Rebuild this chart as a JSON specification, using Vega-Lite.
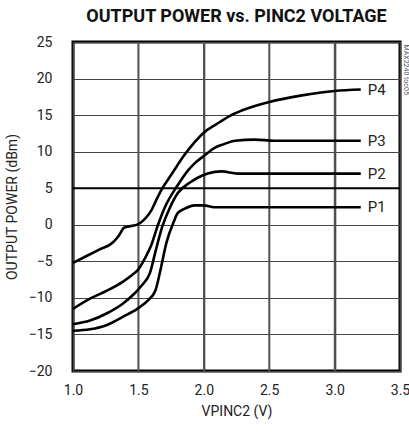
{
  "$schema": "https://vega.github.io/schema/vega-lite/v6.json",
  "width": 327,
  "height": 329,
  "autosize": {"type": "none"},
  "padding": {"left": 73, "top": 42, "right": 9, "bottom": 62},
  "background": "white",
  "config": {
    "font": "Roboto",
    "view": {"stroke": "black", "strokeWidth": 3},
    "axis": {
      "labelFont": "Roboto",
      "titleFont": "Roboto",
      "labelFontSize": 14,
      "titleFontSize": 14,
      "titleFontWeight": "normal",
      "labelColor": "#222",
      "titleColor": "#222",
      "labelFlush": false,
      "grid": true,
      "gridColor": "#444",
      "gridWidth": 1,
      "gridOpacity": 1,
      "ticks": false,
      "domain": false
    }
  },
  "title": {
    "text": "OUTPUT POWER vs. PINC2 VOLTAGE",
    "font": "Roboto",
    "fontSize": 18,
    "fontWeight": "bold",
    "color": "#111",
    "anchor": "middle",
    "offset": 9
  },
  "datasets": {
    "curves": [
      {"series": "P4", "v": 1.0, "p": -5.2},
      {"series": "P4", "v": 1.1, "p": -4.3},
      {"series": "P4", "v": 1.2, "p": -3.4},
      {"series": "P4", "v": 1.3, "p": -2.5},
      {"series": "P4", "v": 1.35, "p": -1.5},
      {"series": "P4", "v": 1.39, "p": -0.4},
      {"series": "P4", "v": 1.45, "p": -0.15},
      {"series": "P4", "v": 1.5, "p": 0.1},
      {"series": "P4", "v": 1.55, "p": 0.8},
      {"series": "P4", "v": 1.6, "p": 2.0},
      {"series": "P4", "v": 1.64, "p": 3.5},
      {"series": "P4", "v": 1.68, "p": 4.9},
      {"series": "P4", "v": 1.75, "p": 6.8},
      {"series": "P4", "v": 1.85, "p": 9.5},
      {"series": "P4", "v": 1.93, "p": 11.3},
      {"series": "P4", "v": 2.0, "p": 12.6},
      {"series": "P4", "v": 2.1, "p": 13.8},
      {"series": "P4", "v": 2.2, "p": 14.9},
      {"series": "P4", "v": 2.3, "p": 15.7},
      {"series": "P4", "v": 2.5, "p": 16.8},
      {"series": "P4", "v": 2.75, "p": 17.7},
      {"series": "P4", "v": 3.0, "p": 18.3},
      {"series": "P4", "v": 3.2, "p": 18.5},
      {"series": "P3", "v": 1.0, "p": -11.5},
      {"series": "P3", "v": 1.13, "p": -10.1},
      {"series": "P3", "v": 1.26, "p": -9.0},
      {"series": "P3", "v": 1.38, "p": -7.8},
      {"series": "P3", "v": 1.47, "p": -6.6},
      {"series": "P3", "v": 1.5, "p": -6.1},
      {"series": "P3", "v": 1.55, "p": -4.6},
      {"series": "P3", "v": 1.6, "p": -2.7},
      {"series": "P3", "v": 1.65, "p": 0.0},
      {"series": "P3", "v": 1.7, "p": 2.3},
      {"series": "P3", "v": 1.8, "p": 5.4},
      {"series": "P3", "v": 1.88, "p": 7.45},
      {"series": "P3", "v": 1.93, "p": 8.4},
      {"series": "P3", "v": 2.0, "p": 9.4},
      {"series": "P3", "v": 2.08, "p": 10.5},
      {"series": "P3", "v": 2.15, "p": 11.0},
      {"series": "P3", "v": 2.24, "p": 11.5},
      {"series": "P3", "v": 2.39, "p": 11.65},
      {"series": "P3", "v": 2.54, "p": 11.5},
      {"series": "P3", "v": 3.2, "p": 11.5},
      {"series": "P2", "v": 1.0, "p": -13.6},
      {"series": "P2", "v": 1.13, "p": -13.1},
      {"series": "P2", "v": 1.26, "p": -12.1},
      {"series": "P2", "v": 1.38, "p": -10.8},
      {"series": "P2", "v": 1.47, "p": -9.4},
      {"series": "P2", "v": 1.525, "p": -8.3},
      {"series": "P2", "v": 1.59, "p": -6.5},
      {"series": "P2", "v": 1.63, "p": -3.7},
      {"series": "P2", "v": 1.68, "p": -0.4},
      {"series": "P2", "v": 1.74, "p": 2.3},
      {"series": "P2", "v": 1.8, "p": 4.3},
      {"series": "P2", "v": 1.9, "p": 5.85},
      {"series": "P2", "v": 1.95, "p": 6.4},
      {"series": "P2", "v": 2.03, "p": 7.0},
      {"series": "P2", "v": 2.135, "p": 7.3},
      {"series": "P2", "v": 2.26, "p": 7.0},
      {"series": "P2", "v": 3.2, "p": 7.0},
      {"series": "P1", "v": 1.0, "p": -14.5},
      {"series": "P1", "v": 1.13, "p": -14.3},
      {"series": "P1", "v": 1.26, "p": -13.7},
      {"series": "P1", "v": 1.38, "p": -12.6},
      {"series": "P1", "v": 1.5, "p": -11.4},
      {"series": "P1", "v": 1.575, "p": -10.3},
      {"series": "P1", "v": 1.63, "p": -9.0},
      {"series": "P1", "v": 1.665, "p": -6.5},
      {"series": "P1", "v": 1.715, "p": -2.4},
      {"series": "P1", "v": 1.77, "p": 0.4},
      {"series": "P1", "v": 1.8, "p": 1.6},
      {"series": "P1", "v": 1.855, "p": 2.2},
      {"series": "P1", "v": 1.93, "p": 2.65},
      {"series": "P1", "v": 2.0, "p": 2.65},
      {"series": "P1", "v": 2.08, "p": 2.4},
      {"series": "P1", "v": 3.2, "p": 2.4}
    ],
    "labels": [
      {"series": "P4", "v": 3.2, "p": 18.5},
      {"series": "P3", "v": 3.2, "p": 11.5},
      {"series": "P2", "v": 3.2, "p": 7.0},
      {"series": "P1", "v": 3.2, "p": 2.4}
    ],
    "gridx": [{"v": 1.5}, {"v": 2.0}, {"v": 2.5}, {"v": 3.0}],
    "ref": [{"level": 5}]
  },
  "layer": [
    {
      "data": {"name": "gridx"},
      "mark": {"type": "rule", "color": "#555", "strokeWidth": 1.6},
      "encoding": {
        "x": {
          "field": "v", "type": "quantitative",
          "scale": {"domain": [1, 3.5], "nice": false, "zero": false},
          "axis": {
            "grid": true, "gridWidth": 1.6, "labelFlush": false,
            "values": [1, 1.5, 2, 2.5, 3, 3.5], "format": ".1f",
            "labelPadding": 12, "title": "VPINC2 (V)",
            "titleX": 163.5, "titleY": 40, "titleBaseline": "middle"
          }
        },
        "y": {
          "datum": -20, "type": "quantitative",
          "scale": {"domain": [-20, 25], "nice": false, "zero": false},
          "axis": {
            "grid": true, "labelFlush": false,
            "values": [-20, -15, -10, -5, 0, 5, 10, 15, 20, 25],
            "labelPadding": 21, "title": "OUTPUT POWER (dBm)",
            "titleX": -61, "titleY": 164.5, "titleBaseline": "middle", "titleAngle": -90
          }
        },
        "y2": {"datum": 25}
      }
    },
    {
      "data": {"name": "curves"},
      "mark": {"type": "line", "color": "black", "strokeWidth": 2.6, "interpolate": "monotone"},
      "encoding": {
        "x": {"field": "v", "type": "quantitative"},
        "y": {"field": "p", "type": "quantitative", "axis": null},
        "detail": {"field": "series", "type": "nominal"}
      }
    },
    {
      "data": {"name": "ref"},
      "mark": {"type": "rule", "color": "black", "strokeWidth": 2},
      "encoding": {
        "y": {
          "field": "level", "type": "quantitative",
          "axis": {
            "orient": "right", "grid": false, "labels": false,
            "title": "MAX2240 toc05", "titleFontSize": 7, "titleColor": "#555",
            "titleAngle": 90, "titleX": 5, "titleY": 2, "titleAlign": "left", "titleBaseline": "middle"
          }
        }
      }
    },
    {
      "data": {"name": "labels"},
      "mark": {"type": "text", "align": "left", "baseline": "middle", "dx": 7, "fontSize": 15, "font": "Roboto", "color": "#222"},
      "encoding": {
        "x": {"field": "v", "type": "quantitative"},
        "y": {"field": "p", "type": "quantitative", "axis": null},
        "text": {"field": "series", "type": "nominal"}
      }
    }
  ],
  "resolve": {"axis": {"y": "independent"}}
}
